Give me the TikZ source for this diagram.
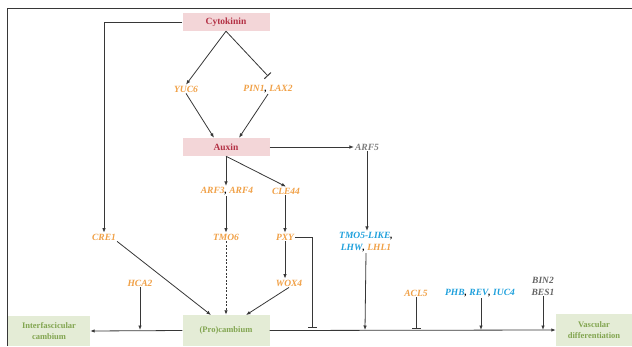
\documentclass[tikz,border=0pt]{standalone}
\usepackage{fontspec}
\setmainfont{Liberation Serif}
\usepackage{xcolor}
\usetikzlibrary{positioning, calc, arrows.meta}

\definecolor{pinkbox}{RGB}{243,214,216}
\definecolor{hormone}{RGB}{180,50,70}
\definecolor{greenbox}{RGB}{228,236,214}
\definecolor{tissue}{RGB}{130,165,80}
\definecolor{orangegene}{RGB}{240,160,70}
\definecolor{bluegene}{RGB}{30,160,220}
\definecolor{graygene}{RGB}{125,125,125}
\definecolor{linegray}{RGB}{55,55,55}

\begin{document}
\begin{tikzpicture}[x=1pt, y=-1pt,
    hormbox/.style={rectangle, fill=pinkbox, text=hormone, minimum width=87pt, minimum height=18pt, inner sep=1pt, font=\bfseries\fontsize{9.5}{10}\selectfont},
    tissuebox/.style={rectangle, fill=greenbox, text=tissue, align=center, inner sep=1pt, font=\bfseries\fontsize{8.5}{11}\selectfont},
    gene/.style={text=orangegene, inner sep=1pt, align=center, font=\bfseries\itshape\fontsize{9.5}{12}\selectfont},
    act/.style={draw=linegray, line width=0.8pt, -{Latex[length=4.5pt,width=3.5pt]}},
    inh/.style={draw=linegray, line width=0.8pt, -{Bar[width=9pt,line width=1pt]}}]
    \useasboundingbox (0,0) rectangle (632,346);
    % frame
    \draw[linegray, line width=1pt] (632,8) -- (7,8) -- (7,346);
    % boxes
    \node[hormbox] (cyto) at (226,22) {Cytokinin};
    \node[hormbox] (aux) at (226,147) {Auxin};
    \node[tissuebox, minimum width=82pt, minimum height=30pt] (inter) at (49,331) {Interfascicular\\cambium};
    \node[tissuebox, minimum width=87pt, minimum height=31pt] (proc) at (226,330.5) {(Pro)cambium};
    \node[tissuebox, minimum width=76pt, minimum height=32pt] (vasc) at (594,330) {Vascular\\differentiation};
    % genes
    \node[gene] (yuc) at (186,89) {YUC6};
    \node[gene] (pin) at (268,89) {PIN1\textcolor{black}{,} LAX2};
    \node[gene, text=graygene] (arf5) at (367,147) {ARF5};
    \node[gene] (arf34) at (227,191) {ARF3\textcolor{black}{,} ARF4};
    \node[gene] (cle) at (286,191) {CLE44};
    \node[gene] (cre) at (104,237) {CRE1};
    \node[gene] (tmo6) at (226,237) {TMO6};
    \node[gene] (pxy) at (285,237) {PXY};
    \node[gene] (wox) at (289,283) {WOX4};
    \node[gene] (hca) at (140,283) {HCA2};
    \node[gene, text=bluegene] (tmo5) at (366,242) {TMO5-LIKE\textcolor{black}{,}\\LHW\textcolor{black}{,} \textcolor{orangegene}{LHL1}};
    \node[gene] (acl) at (416,293) {ACL5};
    \node[gene, text=bluegene] (phb) at (480,293) {PHB\textcolor{black}{,} REV\textcolor{black}{,} IUC4};
    \node[gene, text=graygene!80!black] (bin) at (543,286) {BIN2\\BES1};
    % points on the main line
    \coordinate (hcaend) at (140,330);
    \coordinate (pxyend) at (312,328);
    \coordinate (tmo5end) at (365,330);
    \coordinate (aclend) at (416,329);
    \coordinate (phbend) at (481,330);
    \coordinate (binend) at (543,330);
    \coordinate (crein) at (211,315);
    \coordinate (woxin) at (246,315);
    \coordinate (pinin) at (268,76);
    % connectors
    \draw[act] (cyto.west) -| (cre.north);
    \draw[act] (cyto.south) -- (yuc.north);
    \draw[inh] (cyto.south) -- (pinin);
    \draw[act] (yuc.south) -- (aux.north -| 214,0);
    \draw[act] (pin.south) -- (aux.north -| 239,0);
    \draw[act] (aux.east) -- (arf5.west);
    \draw[act] (aux.south) -- (arf34.north -| aux.south);
    \draw[act] (aux.south) -- (cle.north);
    \draw[act] (arf34.south -| tmo6.north) -- (tmo6.north);
    \draw[act] (cle.south -| pxy.north) -- (pxy.north);
    \draw[act] (pxy.south) -- (wox.north -| pxy.south);
    \draw[act, dash pattern=on 2pt off 1.5pt] (tmo6.south) -- (proc.north);
    \draw[act] (cre.south east) -- (crein);
    \draw[act] (wox.south) -- (woxin);
    \draw[inh] (pxy.east) -| (pxyend);
    \draw[act] (arf5.south) -- (tmo5.north -| arf5.south);
    \draw[act] (proc.west) -- (inter.east);
    \draw[act] (hca.south) -- (hcaend);
    \draw[act] (proc.east) -- (vasc.west);
    \draw[act] (tmo5.south) -- (tmo5end);
    \draw[inh] (acl.south) -- (aclend);
    \draw[act] (phb.south -| phbend) -- (phbend);
    \draw[act] (bin.south) -- (binend);
\end{tikzpicture}
\end{document}
